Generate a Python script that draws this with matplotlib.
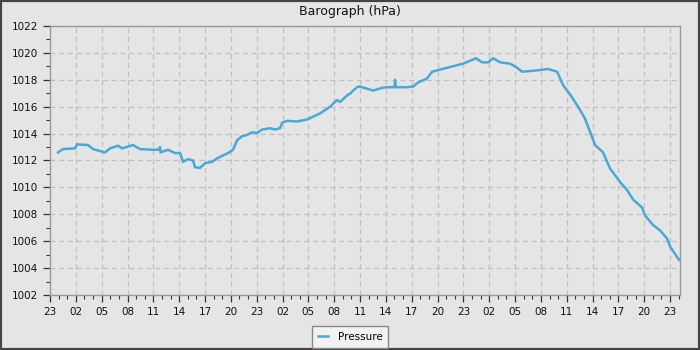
import matplotlib
matplotlib.use("Agg")
import matplotlib.pyplot as plt
from matplotlib.ticker import MultipleLocator
import numpy as np

# hours since 23:00 on day 1
hours = [0.93, 1.51, 2.90, 3.14, 4.41, 4.99, 6.39, 6.97, 7.90, 8.36, 9.64, 10.45,
         11.96, 12.70, 12.77, 12.84, 13.70, 14.52, 15.10, 15.45, 16.03, 16.61, 16.84,
         17.42, 18.00, 18.81, 19.51, 20.67, 21.25, 21.72, 22.30, 22.88, 23.46, 24.04,
         24.62, 25.55, 26.13, 26.71, 26.94, 27.52, 28.68, 29.85, 31.36, 32.52, 33.33,
         33.68, 34.61, 34.84, 35.19, 35.77, 36.23, 37.51, 38.56, 39.14, 40.00, 40.07,
         40.14, 40.30, 41.46, 42.16, 42.74, 43.78, 44.36, 44.94, 46.45, 47.96, 49.47,
         50.17, 50.87, 51.45, 52.26, 53.42, 54.23, 54.81, 56.56, 57.83, 58.88, 59.58,
         60.39, 61.32, 62.13, 63.29, 64.22, 65.03, 66.19, 67.01, 67.70, 68.75, 69.10,
         70.03, 70.84, 71.65, 72.00, 73.05]
pressure = [1012.6, 1012.85, 1012.9, 1013.2, 1013.15, 1012.85, 1012.6, 1012.9, 1013.1,
            1012.9, 1013.15, 1012.85, 1012.8, 1012.8, 1013.0, 1012.6, 1012.8, 1012.55,
            1012.55, 1011.9, 1012.1, 1012.0, 1011.5, 1011.45, 1011.8, 1011.9, 1012.2,
            1012.55, 1012.8, 1013.5, 1013.8, 1013.9, 1014.1, 1014.05, 1014.3, 1014.4,
            1014.3, 1014.4, 1014.8, 1014.95, 1014.9, 1015.05, 1015.5, 1016.0, 1016.5,
            1016.35, 1016.9, 1016.95, 1017.2, 1017.5, 1017.45, 1017.2, 1017.4, 1017.45,
            1017.45, 1018.0, 1017.45, 1017.45, 1017.45, 1017.5, 1017.8, 1018.1, 1018.6,
            1018.7, 1018.95, 1019.2, 1019.6, 1019.3, 1019.3, 1019.6, 1019.3, 1019.2,
            1018.9, 1018.6, 1018.7, 1018.8, 1018.6, 1017.6, 1016.9, 1016.0, 1015.1,
            1013.15, 1012.6, 1011.4, 1010.4, 1009.8, 1009.1, 1008.5, 1007.9, 1007.2,
            1006.8, 1006.2, 1005.6, 1004.6]
x_tick_labels = ["23", "02", "05", "08", "11", "14", "17", "20", "23", "02", "05", "08",
                 "11", "14", "17", "20", "23", "02", "05", "08", "11", "14", "17", "20", "23"]
y_ticks = [1002, 1004, 1006, 1008, 1010, 1012, 1014, 1016, 1018, 1020, 1022]

bg = "#e5e5e5"
fig = plt.figure(figsize=(7, 3.5), dpi=100, facecolor=bg)
ax = fig.add_axes([50/700, 1-295/350, 630/700, 269/350], facecolor=bg)

ax.plot(hours, pressure, color="#4aa8d8", lw=1.8, label="Pressure")

ax.set_xlim(0, 73.15)
ax.set_ylim(1002, 1022)
ax.set_xticks(np.arange(len(x_tick_labels)) * 3)
ax.set_xticklabels(x_tick_labels)
ax.xaxis.set_minor_locator(MultipleLocator(1))
ax.set_yticks(y_ticks)
ax.yaxis.set_minor_locator(MultipleLocator(1))
ax.tick_params(which="both", direction="out", color="#333333", labelsize=7.5,
               labelcolor="#111111")
ax.tick_params(which="major", length=5, width=0.9)
ax.tick_params(which="minor", length=3, width=0.8)
ax.grid(True, which="major", color="#c0c0c0", linestyle=(0, (4, 3)), lw=0.9)
for s in ax.spines.values():
    s.set_color("#999999")
    s.set_linewidth(1.0)

fig.text(0.5, 1-12/350, "Barograph (hPa)", ha="center", va="center", fontsize=9,
         color="#111111")

leg = fig.legend(loc="center", bbox_to_anchor=(350/700, 1-337/350), fontsize=7.5,
                 frameon=True, fancybox=False, handlelength=1.0, borderpad=0.55,
                 handletextpad=0.9)
leg.get_frame().set_edgecolor("#888888")
leg.get_frame().set_facecolor("#f2f2f2")
leg.get_frame().set_alpha(1)

fig.patches.append(plt.Rectangle((0, 0), 1, 1, transform=fig.transFigure,
                                 fill=False, edgecolor="#444444", lw=3))

fig.savefig("out.png", dpi=100, facecolor=bg)
